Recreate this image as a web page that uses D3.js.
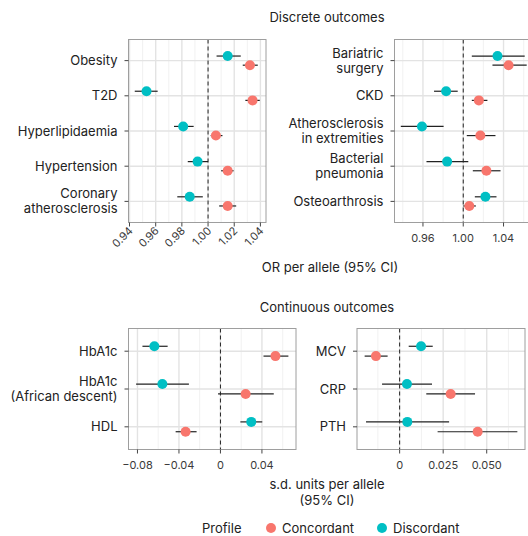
<!DOCTYPE html>
<html>
<head>
<meta charset="utf-8">
<script src="https://cdn.jsdelivr.net/npm/d3@7"></script>
<style>
	body { margin: 0; background: #fff; }
	svg { display: block; font-family: Inter, 'Noto Sans', sans-serif; }
	.ylab { font-size: 13px; fill: #222; }
	.tick-label { font-size: 11px; fill: #3a3a3a; }
	.title { font-size: 13px; fill: #222; }
</style>
</head>
<body>
<div class="container"></div>
<script>
// outcomes per panel (\n = line break in label)
var discreteLeft = ['Obesity', 'T2D', 'Hyperlipidaemia', 'Hypertension', 'Coronary\natherosclerosis'];
var discreteRight = ['Bariatric\nsurgery', 'CKD', 'Atherosclerosis\nin extremities', 'Bacterial\npneumonia', 'Osteoarthrosis'];
var continuousLeft = ['HbA1c', 'HbA1c\n(African descent)', 'HDL'];
var continuousRight = ['MCV', 'CRP', 'PTH'];

// [estimate, lower, upper]
var discLeftConcordant = [[1.032, 1.0265, 1.038], [1.034, 1.0285, 1.0395], [1.006, 1.002, 1.011], [1.015, 1.010, 1.0195], [1.015, 1.0085, 1.0215]];
var discLeftDiscordant = [[1.015, 1.0065, 1.025], [0.953, 0.944, 0.9615], [0.981, 0.974, 0.989], [0.992, 0.9845, 1.000], [0.986, 0.9765, 0.996]];
var discRightConcordant = [[1.045, 1.029, 1.063], [1.0155, 1.0085, 1.024], [1.017, 1.0035, 1.032], [1.023, 1.0095, 1.037], [1.006, 1.000, 1.0125]];
var discRightDiscordant = [[1.034, 1.0085, 1.061], [0.983, 0.971, 0.9945], [0.959, 0.938, 0.9805], [0.984, 0.9635, 1.005], [1.022, 1.0115, 1.033]];
var contLeftConcordant = [[0.053, 0.0415, 0.0655], [0.0243, -0.0023, 0.0514], [-0.0336, -0.0432, -0.023]];
var contLeftDiscordant = [[-0.0637, -0.0752, -0.0509], [-0.056, -0.0813, -0.0304], [0.0297, 0.0192, 0.0403]];
var contRightConcordant = [[-0.0136, -0.0201, -0.0069], [0.0293, 0.0153, 0.0433], [0.0448, 0.0218, 0.0676]];
var contRightDiscordant = [[0.0123, 0.0052, 0.019], [0.0042, -0.0101, 0.0186], [0.0044, -0.0193, 0.0284]];

// axis ticks
var discLeftTicks = [0.94, 0.96, 0.98, 1.00, 1.02, 1.04];
var discRightTicks = [0.96, 1.00, 1.04];
var contLeftTicks = [-0.08, -0.04, 0, 0.04];
var contRightTicks = [0, 0.025, 0.050];

var profiles = ['Concordant', 'Discordant'];
var colour = d3.scaleOrdinal().domain(profiles).range(['#F8766D', '#00BFC4']);

var svg = d3
	.select('.container')
	.append('svg')
	.attr('width', 528)
	.attr('height', 536);

function midpoints(ticks) {
	var step = ticks[1] - ticks[0];
	var out = [ticks[0] - step / 2];
	ticks.forEach(function(t) {
		out.push(t + step / 2);
	});
	return out;
}

function panel(opt) {
	var all = opt.concordant.concat(opt.discordant);
	var lo = d3.min(all, function(d) { return d[1]; });
	var hi = d3.max(all, function(d) { return d[2]; });
	var pad = (hi - lo) * 0.05;

	var x = d3.scaleLinear().domain([lo - pad, hi + pad]).range([opt.left, opt.right]);
	var y = d3.scalePoint().domain(opt.outcomes).range([opt.top, opt.bottom]).padding(0.6);
	var dodge = y.step() * 0.13;

	var g = svg.append('g');
	var inside = function(v) {
		return v >= x.domain()[0] && v <= x.domain()[1];
	};

	// grid
	g.append('g')
		.selectAll('line')
		.data(midpoints(opt.ticks).filter(inside))
		.enter()
		.append('line')
		.attr('x1', function(d) { return x(d); })
		.attr('x2', function(d) { return x(d); })
		.attr('y1', opt.top)
		.attr('y2', opt.bottom)
		.attr('stroke', '#efefef')
		.attr('stroke-width', 0.9);

	g.append('g')
		.selectAll('line')
		.data(opt.ticks)
		.enter()
		.append('line')
		.attr('x1', function(d) { return x(d); })
		.attr('x2', function(d) { return x(d); })
		.attr('y1', opt.top)
		.attr('y2', opt.bottom)
		.attr('stroke', '#e3e3e3')
		.attr('stroke-width', 1.4);

	g.append('g')
		.selectAll('line')
		.data(opt.outcomes)
		.enter()
		.append('line')
		.attr('x1', opt.left)
		.attr('x2', opt.right)
		.attr('y1', function(d) { return y(d); })
		.attr('y2', function(d) { return y(d); })
		.attr('stroke', '#e3e3e3')
		.attr('stroke-width', 1.4);

	// reference line
	g.append('line')
		.attr('x1', x(opt.ref))
		.attr('x2', x(opt.ref))
		.attr('y1', opt.top)
		.attr('y2', opt.bottom)
		.attr('stroke', '#222')
		.attr('stroke-width', 1)
		.attr('stroke-dasharray', '4,3');

	// intervals + points
	var rows = [];
	opt.outcomes.forEach(function(o, i) {
		rows.push({ outcome: o, profile: 'Discordant', v: opt.discordant[i], off: -dodge });
		rows.push({ outcome: o, profile: 'Concordant', v: opt.concordant[i], off: dodge });
	});

	g.append('g')
		.selectAll('line')
		.data(rows)
		.enter()
		.append('line')
		.attr('x1', function(d) { return x(d.v[1]); })
		.attr('x2', function(d) { return x(d.v[2]); })
		.attr('y1', function(d) { return y(d.outcome) + d.off; })
		.attr('y2', function(d) { return y(d.outcome) + d.off; })
		.attr('stroke', '#222')
		.attr('stroke-width', 1.2);

	g.append('g')
		.selectAll('circle')
		.data(rows)
		.enter()
		.append('circle')
		.attr('cx', function(d) { return x(d.v[0]); })
		.attr('cy', function(d) { return y(d.outcome) + d.off; })
		.attr('r', 5)
		.attr('fill', function(d) { return colour(d.profile); });

	// border
	g.append('rect')
		.attr('x', opt.left)
		.attr('y', opt.top)
		.attr('width', opt.right - opt.left)
		.attr('height', opt.bottom - opt.top)
		.attr('fill', 'none')
		.attr('stroke', '#9e9e9e')
		.attr('stroke-width', 1);

	// y axis
	g.append('g')
		.selectAll('line')
		.data(opt.outcomes)
		.enter()
		.append('line')
		.attr('x1', opt.left - 4)
		.attr('x2', opt.left)
		.attr('y1', function(d) { return y(d); })
		.attr('y2', function(d) { return y(d); })
		.attr('stroke', '#444');

	var labels = g.append('g')
		.selectAll('text')
		.data(opt.outcomes)
		.enter()
		.append('text')
		.attr('class', 'ylab')
		.attr('text-anchor', 'end')
		.attr('x', opt.left - 11)
		.attr('y', function(d) {
			var n = d.split('\n').length;
			return y(d) + 4.5 - (n - 1) * 7.5;
		});
	labels.selectAll('tspan')
		.data(function(d) { return d.split('\n'); })
		.enter()
		.append('tspan')
		.attr('x', opt.left - 11)
		.attr('dy', function(d, i) { return i ? 15 : 0; })
		.text(function(d) { return d; });

	// x axis
	g.append('g')
		.selectAll('line')
		.data(opt.ticks)
		.enter()
		.append('line')
		.attr('x1', function(d) { return x(d); })
		.attr('x2', function(d) { return x(d); })
		.attr('y1', opt.bottom)
		.attr('y2', opt.bottom + 4)
		.attr('stroke', '#444');

	var tl = g.append('g')
		.selectAll('text')
		.data(opt.ticks)
		.enter()
		.append('text')
		.attr('class', 'tick-label')
		.text(opt.format);
	if (opt.rotate) {
		tl.attr('text-anchor', 'end')
			.attr('transform', function(d) {
				return 'translate(' + (x(d) + 4) + ',' + (opt.bottom + 9) + ') rotate(-45)';
			});
	} else {
		tl.attr('text-anchor', 'middle')
			.attr('x', function(d) { return x(d); })
			.attr('y', opt.bottom + 19);
	}
}

panel({
	outcomes: discreteLeft, concordant: discLeftConcordant, discordant: discLeftDiscordant,
	ticks: discLeftTicks, ref: 1, format: d3.format('.2f'), rotate: true,
	left: 128.5, right: 266, top: 39.5, bottom: 222.5
});
panel({
	outcomes: discreteRight, concordant: discRightConcordant, discordant: discRightDiscordant,
	ticks: discRightTicks, ref: 1, format: d3.format('.2f'), rotate: false,
	left: 394.5, right: 533, top: 39.5, bottom: 222.5
});
panel({
	outcomes: continuousLeft, concordant: contLeftConcordant, discordant: contLeftDiscordant,
	ticks: contLeftTicks, ref: 0, format: function(d) { return d === 0 ? '0' : d3.format('.2f')(d).replace('-', '\u2212'); },
	rotate: false, left: 128.5, right: 296, top: 328.5, bottom: 449.5
});
panel({
	outcomes: continuousRight, concordant: contRightConcordant, discordant: contRightDiscordant,
	ticks: contRightTicks, ref: 0, format: function(d) { return d === 0 ? '0' : d3.format('.3f')(d); },
	rotate: false, left: 357, right: 525, top: 328.5, bottom: 449.5
});

// titles
var titles = [
	{ text: 'Discrete outcomes', x: 327, y: 22 },
	{ text: 'OR per allele (95% CI)', x: 330, y: 272 },
	{ text: 'Continuous outcomes', x: 327, y: 312 },
	{ text: 's.d. units per allele', x: 327, y: 489 },
	{ text: '(95% CI)', x: 327, y: 505 }
];
svg.append('g')
	.selectAll('text')
	.data(titles)
	.enter()
	.append('text')
	.attr('class', 'title')
	.attr('text-anchor', 'middle')
	.attr('x', function(d) { return d.x; })
	.attr('y', function(d) { return d.y; })
	.text(function(d) { return d.text; });

// legend
var legend = svg.append('g').attr('transform', 'translate(0, 528)');
legend.append('text')
	.attr('class', 'title')
	.attr('x', 202)
	.attr('y', 4.5)
	.text('Profile');
var items = legend.selectAll('g')
	.data(profiles)
	.enter()
	.append('g')
	.attr('transform', function(d, i) { return 'translate(' + (271 + i * 111) + ',0)'; });
items.append('circle')
	.attr('r', 5)
	.attr('fill', function(d) { return colour(d); });
items.append('text')
	.attr('class', 'title')
	.attr('x', 11)
	.attr('y', 4.5)
	.text(function(d) { return d; });
</script>
</body>
</html>
